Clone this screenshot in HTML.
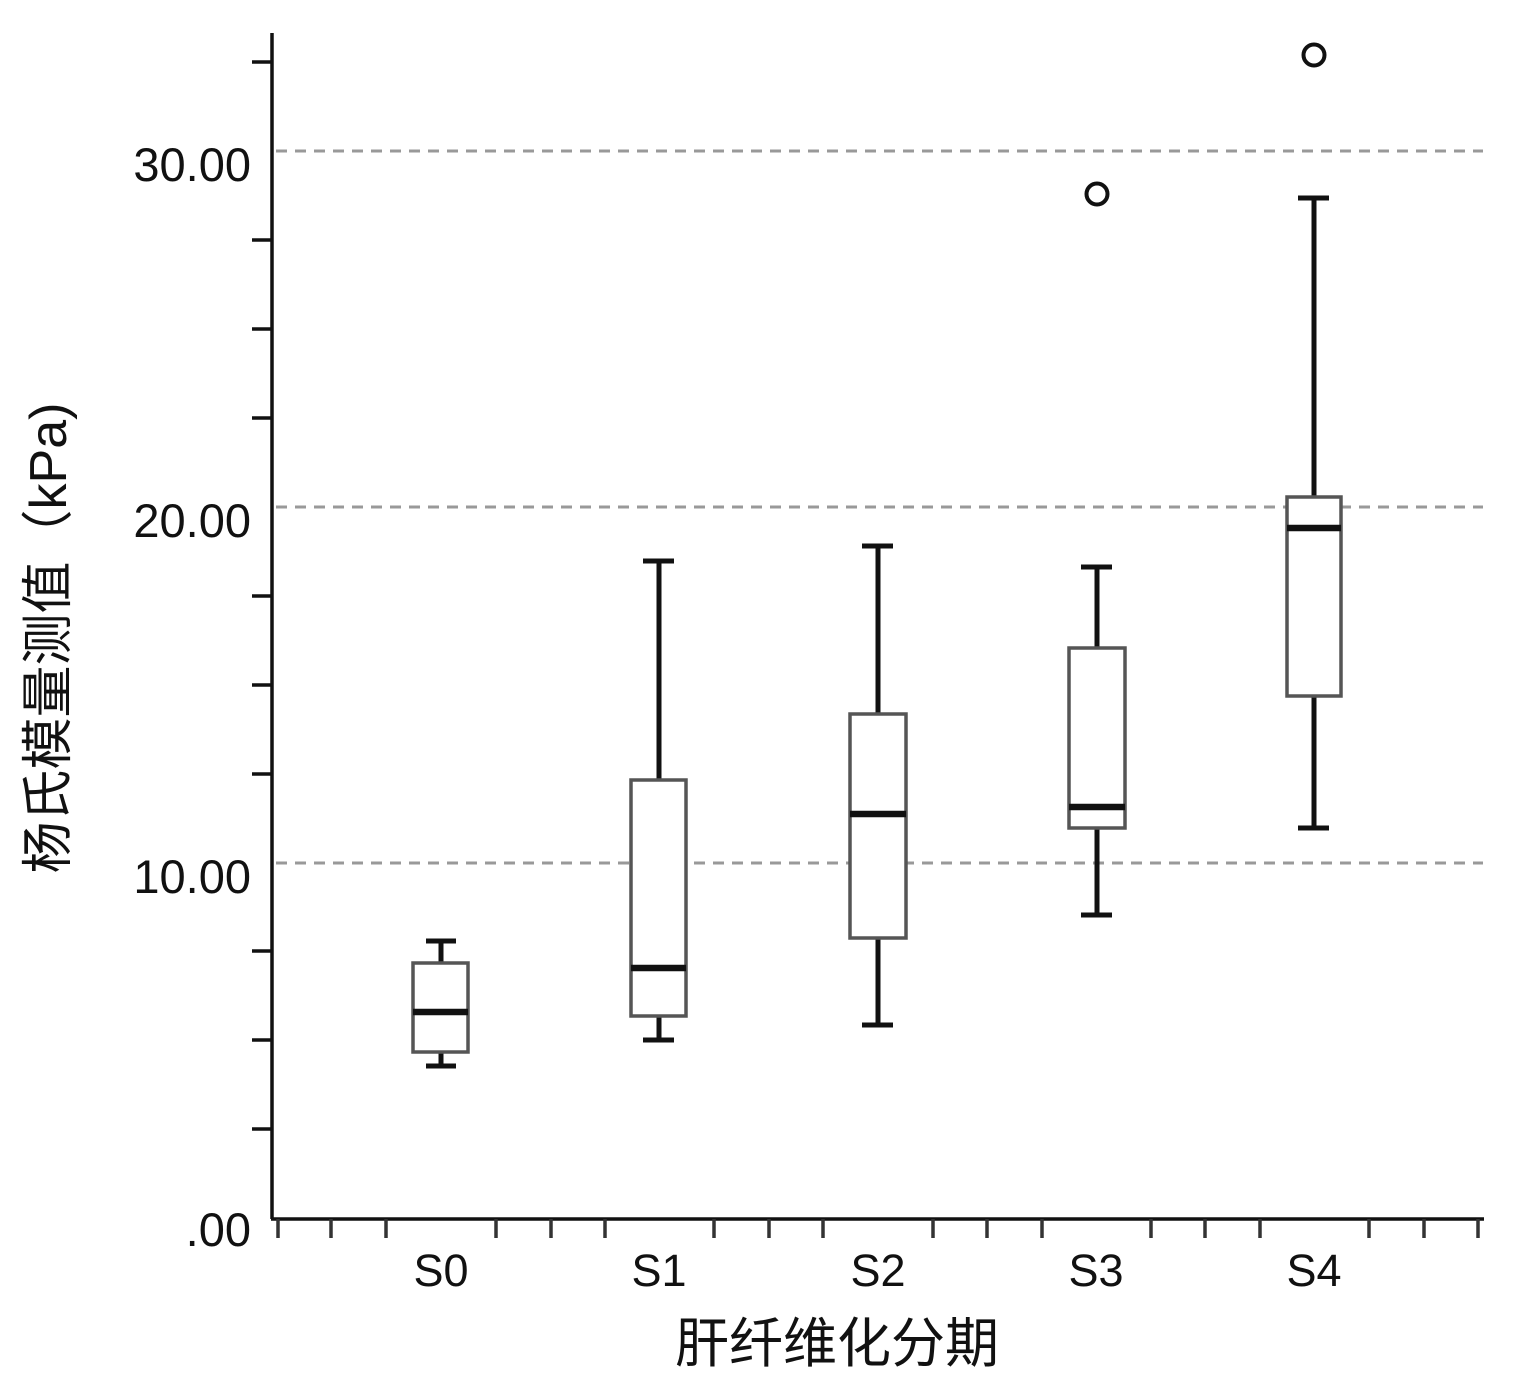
<!DOCTYPE html>
<html><head><meta charset="utf-8"><style>
html,body{margin:0;padding:0;background:#fff;}
svg text{font-family:"Liberation Sans","Noto Sans CJK SC",sans-serif;fill:#111;}
</style></head><body>
<svg width="1514" height="1380" viewBox="0 0 1514 1380" xmlns="http://www.w3.org/2000/svg">
<g stroke="#999" stroke-width="3" stroke-dasharray="11,8">
<line x1="276" y1="151" x2="1483" y2="151"/>
<line x1="276" y1="507" x2="1483" y2="507"/>
<line x1="276" y1="863" x2="1483" y2="863"/>
</g>
<g stroke="#111" stroke-width="3.5">
<line x1="272" y1="33" x2="272" y2="1219"/>
<line x1="271" y1="1219" x2="1484" y2="1219"/>
<line x1="252" y1="62" x2="272" y2="62"/>
<line x1="252" y1="240" x2="272" y2="240"/>
<line x1="252" y1="329" x2="272" y2="329"/>
<line x1="252" y1="418" x2="272" y2="418"/>
<line x1="252" y1="596" x2="272" y2="596"/>
<line x1="252" y1="685" x2="272" y2="685"/>
<line x1="252" y1="774" x2="272" y2="774"/>
<line x1="252" y1="951" x2="272" y2="951"/>
<line x1="252" y1="1040" x2="272" y2="1040"/>
<line x1="252" y1="1129" x2="272" y2="1129"/>
</g>
<g stroke="#333" stroke-width="3.5">
<line x1="278" y1="1219" x2="278" y2="1238"/><line x1="331" y1="1219" x2="331" y2="1238"/><line x1="386" y1="1219" x2="386" y2="1238"/>
<line x1="496" y1="1219" x2="496" y2="1238"/><line x1="551" y1="1219" x2="551" y2="1238"/><line x1="605" y1="1219" x2="605" y2="1238"/>
<line x1="714" y1="1219" x2="714" y2="1238"/><line x1="769" y1="1219" x2="769" y2="1238"/><line x1="823" y1="1219" x2="823" y2="1238"/>
<line x1="933" y1="1219" x2="933" y2="1238"/><line x1="987" y1="1219" x2="987" y2="1238"/><line x1="1042" y1="1219" x2="1042" y2="1238"/>
<line x1="1151" y1="1219" x2="1151" y2="1238"/><line x1="1205" y1="1219" x2="1205" y2="1238"/><line x1="1260" y1="1219" x2="1260" y2="1238"/>
<line x1="1369" y1="1219" x2="1369" y2="1238"/><line x1="1424" y1="1219" x2="1424" y2="1238"/><line x1="1478" y1="1219" x2="1478" y2="1238"/>
</g>
<g font-size="47" text-anchor="end">
<text x="251" y="181">30.00</text>
<text x="251" y="537">20.00</text>
<text x="251" y="893">10.00</text>
<text x="251" y="1246">.00</text>
</g>
<g font-size="45" text-anchor="middle">
<text x="441" y="1286">S0</text><text x="659" y="1286">S1</text><text x="878" y="1286">S2</text><text x="1096" y="1286">S3</text><text x="1314" y="1286">S4</text>
</g>
<text x="837" y="1362" font-size="54" text-anchor="middle">肝纤维化分期</text>
<text transform="translate(66,638) rotate(-90)" font-size="52" text-anchor="middle">杨氏模量测值（kPa)</text>
<g stroke="#111" stroke-width="5" fill="none">
<line x1="441" y1="941" x2="441" y2="963"/><line x1="441" y1="1052" x2="441" y2="1066"/><line x1="426" y1="941" x2="456" y2="941"/><line x1="426" y1="1066" x2="456" y2="1066"/>
<line x1="659" y1="561" x2="659" y2="780"/><line x1="659" y1="1016" x2="659" y2="1040"/><line x1="643" y1="561" x2="674" y2="561"/><line x1="643" y1="1040" x2="674" y2="1040"/>
<line x1="878" y1="546" x2="878" y2="714"/><line x1="878" y1="938" x2="878" y2="1025"/><line x1="862" y1="546" x2="893" y2="546"/><line x1="862" y1="1025" x2="893" y2="1025"/>
<line x1="1097" y1="567" x2="1097" y2="648"/><line x1="1097" y1="828" x2="1097" y2="915"/><line x1="1081" y1="567" x2="1112" y2="567"/><line x1="1081" y1="915" x2="1112" y2="915"/>
<line x1="1314" y1="198" x2="1314" y2="497"/><line x1="1314" y1="696" x2="1314" y2="828"/><line x1="1298" y1="198" x2="1329" y2="198"/><line x1="1298" y1="828" x2="1329" y2="828"/>
</g>
<g stroke="#555" stroke-width="3.5" fill="#fff">
<rect x="413" y="963" width="55" height="89"/>
<rect x="631" y="780" width="55" height="236"/>
<rect x="850" y="714" width="56" height="224"/>
<rect x="1069" y="648" width="56" height="180"/>
<rect x="1287" y="497" width="54" height="199"/>
</g>
<g stroke="#111" stroke-width="6.5">
<line x1="413" y1="1012" x2="468" y2="1012"/>
<line x1="631" y1="968" x2="686" y2="968"/>
<line x1="850" y1="814" x2="906" y2="814"/>
<line x1="1069" y1="807" x2="1125" y2="807"/>
<line x1="1287" y1="528" x2="1341" y2="528"/>
</g>
<g stroke="#111" stroke-width="4" fill="none">
<circle cx="1097" cy="194" r="10.5"/>
<circle cx="1314" cy="55" r="10.5"/>
</g>
</svg>
</body></html>
